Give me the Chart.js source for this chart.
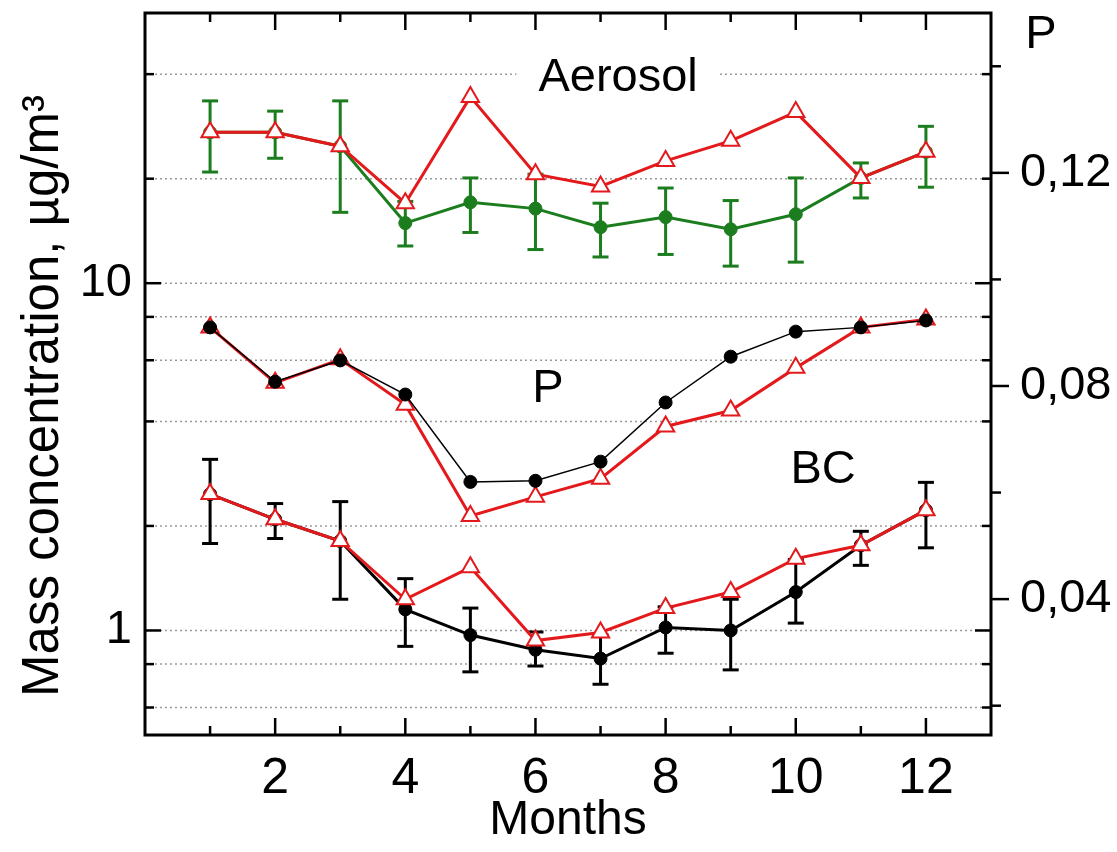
<!DOCTYPE html>
<html>
<head>
<meta charset="utf-8">
<script src="https://cdn.jsdelivr.net/npm/chart.js@4.4.0/dist/chart.umd.min.js"></script>
<style>
  html, body { margin: 0; padding: 0; background: #fff; }
  #wrap { width: 1117px; height: 852px; }
</style>
</head>
<body>
<div id="wrap"><canvas id="grafico"></canvas></div>
<script>
// dados
const months = [1, 2, 3, 4, 5, 6, 7, 8, 9, 10, 11, 12];

const aerosolMeasured = [27.2, 27.2, 24.8, 14.9, 17.1, 16.4, 14.5, 15.5, 14.3, 15.8, 20.1, 23.9];
const aerosolHigh     = [33.5, 31.3, 33.5, 17.2, 20.1, 20.6, 17.0, 18.8, 17.3, 20.1, 22.2, 28.3];
const aerosolLow      = [20.9, 22.9, 16.0, 12.8, 14.0, 12.5, 11.9, 12.1, 11.2, 11.5, 17.6, 18.9];
const aerosolModel    = [27.2, 27.2, 24.8, 17.0, 34.4, 20.6, 19.0, 22.5, 25.7, 31.1, 20.1, 23.9];

const bcMeasured = [2.47, 2.09, 1.81, 1.15, 0.97, 0.88, 0.83, 1.02, 1.00, 1.29, 1.76, 2.22];
const bcHigh     = [3.11, 2.32, 2.35, 1.41, 1.16, 0.99, 0.97, 1.17, 1.23, 1.60, 1.93, 2.67];
const bcLow      = [1.78, 1.84, 1.23, 0.90, 0.76, 0.79, 0.70, 0.86, 0.77, 1.05, 1.54, 1.73];
const bcModel    = [2.47, 2.09, 1.81, 1.23, 1.52, 0.935, 0.987, 1.16, 1.29, 1.61, 1.76, 2.22];

const pMeasured = [0.0910, 0.0808, 0.0848, 0.0784, 0.0620, 0.0622, 0.0658, 0.0769, 0.0855, 0.0902, 0.0910, 0.0923];
const pModel    = [0.0910, 0.0806, 0.0850, 0.0765, 0.0556, 0.0592, 0.0626, 0.0724, 0.0754, 0.0834, 0.0910, 0.0925];

const monthTicks = [2, 4, 6, 8, 10, 12];
const massTicks = [0.6, 0.8, 1, 2, 4, 6, 8, 10, 20, 40];
const massLabels = [1, 10];
const pTicks = [0.02, 0.04, 0.06, 0.08, 0.10, 0.12, 0.14];
const pLabels = [0.04, 0.08, 0.12];

const RED = '#e3191c';
const GREEN = '#1b7d1e';
const FONT = '"Liberation Sans", Arial, sans-serif';

const pts = arr => arr.map((v, i) => ({ x: months[i], y: v }));

function seg(ctx, x1, y1, x2, y2) {
    ctx.beginPath(); ctx.moveTo(x1, y1); ctx.lineTo(x2, y2); ctx.stroke();
}

function errorBars(ctx, chart, hi, lo, color) {
    const sx = chart.scales.x, sy = chart.scales.y;
    ctx.strokeStyle = color; ctx.lineWidth = 3;
    months.forEach((m, i) => {
        const x = sx.getPixelForValue(m);
        const y1 = sy.getPixelForValue(hi[i]), y2 = sy.getPixelForValue(lo[i]);
        seg(ctx, x, y1, x, y2);
        seg(ctx, x - 8, y1, x + 8, y1);
        seg(ctx, x - 8, y2, x + 8, y2);
    });
}

function label(ctx, text, x, y, pad) {
    ctx.font = '47px ' + FONT;
    const w = ctx.measureText(text).width;
    ctx.fillStyle = '#fff';
    ctx.fillRect(x - w / 2 - pad, y - 22, w + 2 * pad, 44);
    ctx.fillStyle = '#000';
    ctx.textAlign = 'center'; ctx.textBaseline = 'middle';
    ctx.fillText(text, x, y);
}

const moldura = {
    id: 'moldura',
    beforeDatasetsDraw(chart) {
        const { ctx, chartArea: a, scales } = chart;
        ctx.save();
        // linhas de grade pontilhadas
        ctx.strokeStyle = '#9a9a9a'; ctx.lineWidth = 1.5; ctx.setLineDash([2, 3]);
        massTicks.forEach(v => {
            const y = scales.y.getPixelForValue(v);
            seg(ctx, a.left, y, a.right, y);
        });
        ctx.setLineDash([]);
        // textos dentro do gráfico
        label(ctx, 'Aerosol', scales.x.getPixelForValue(7.27), scales.y.getPixelForValue(38.9), 22);
        label(ctx, 'P', scales.x.getPixelForValue(6.19), scales.y.getPixelForValue(4.95), 8);
        label(ctx, 'BC', scales.x.getPixelForValue(10.42), scales.y.getPixelForValue(2.89), 8);
        // barras de erro
        errorBars(ctx, chart, aerosolHigh, aerosolLow, GREEN);
        errorBars(ctx, chart, bcHigh, bcLow, '#000');
        ctx.restore();
    },
    afterDraw(chart) {
        const { ctx, chartArea: a, scales } = chart;
        ctx.save();
        ctx.strokeStyle = '#000'; ctx.lineWidth = 3;
        ctx.strokeRect(a.left, a.top, a.right - a.left, a.bottom - a.top);
        ctx.lineWidth = 2.5;
        // marcas do eixo x (para dentro, em cima e embaixo)
        months.forEach(m => {
            const x = scales.x.getPixelForValue(m);
            const len = m % 2 === 0 ? 17 : 9;
            seg(ctx, x, a.bottom, x, a.bottom - len);
            seg(ctx, x, a.top, x, a.top + len);
        });
        // marcas do eixo log (esquerda e espelhadas na direita)
        massTicks.forEach(v => {
            const y = scales.y.getPixelForValue(v);
            const len = massLabels.includes(v) ? 16 : 9;
            seg(ctx, a.left, y, a.left + len, y);
            seg(ctx, a.right, y, a.right - len, y);
        });
        // marcas do eixo P (para fora)
        pTicks.forEach(v => {
            const y = scales.y2.getPixelForValue(v);
            const len = pLabels.some(p => Math.abs(p - v) < 1e-6) ? 18 : 10;
            seg(ctx, a.right, y, a.right + len, y);
        });
        ctx.font = '47px ' + FONT;
        ctx.fillStyle = '#000'; ctx.textAlign = 'center'; ctx.textBaseline = 'middle';
        ctx.fillText('P', a.right + 50, a.top + 22);
        // título do eixo esquerdo
        ctx.translate(44, (a.top + a.bottom) / 2 + 22);
        ctx.rotate(-Math.PI / 2);
        ctx.font = '51px ' + FONT;
        ctx.fillText('Mass concentration, µg/m³', 0, 0);
        ctx.restore();
    }
};

function noPad(s) { s.paddingTop = 0; s.paddingBottom = 0; s.paddingLeft = 0; s.paddingRight = 0; }

const ctx = document.getElementById('grafico').getContext('2d');
new Chart(ctx, {
    type: 'line',
    data: {
        datasets: [
            {
                label: 'P measured', data: pts(pMeasured), yAxisID: 'y2', order: 1,
                borderColor: '#000', borderWidth: 1.5,
                pointRadius: 6.5, pointBackgroundColor: '#000', pointBorderColor: '#000', pointBorderWidth: 1
            },
            {
                label: 'P model', data: pts(pModel), yAxisID: 'y2', order: 2,
                borderColor: RED, borderWidth: 3,
                pointStyle: 'triangle', pointRadius: 10, pointBackgroundColor: '#fff', pointBorderColor: RED, pointBorderWidth: 2
            },
            {
                label: 'BC model', data: pts(bcModel), yAxisID: 'y', order: 1,
                borderColor: RED, borderWidth: 3,
                pointStyle: 'triangle', pointRadius: 10, pointBackgroundColor: '#fff', pointBorderColor: RED, pointBorderWidth: 2
            },
            {
                label: 'BC measured', data: pts(bcMeasured), yAxisID: 'y', order: 3,
                borderColor: '#000', borderWidth: 3,
                pointRadius: 6.5, pointBackgroundColor: '#000', pointBorderColor: '#000', pointBorderWidth: 1
            },
            {
                label: 'Aerosol model', data: pts(aerosolModel), yAxisID: 'y', order: 1,
                borderColor: RED, borderWidth: 3,
                pointStyle: 'triangle', pointRadius: 10, pointBackgroundColor: '#fff', pointBorderColor: RED, pointBorderWidth: 2
            },
            {
                label: 'Aerosol measured', data: pts(aerosolMeasured), yAxisID: 'y', order: 3,
                borderColor: GREEN, borderWidth: 3,
                pointRadius: 6.5, pointBackgroundColor: GREEN, pointBorderColor: GREEN, pointBorderWidth: 1
            }
        ]
    },
    options: {
        responsive: true,
        maintainAspectRatio: false,
        animation: false,
        layout: { padding: { top: 13, left: 0, right: 0, bottom: 0 } },
        plugins: { legend: { display: false }, tooltip: { enabled: false } },
        elements: { line: { tension: 0 } },
        scales: {
            x: {
                type: 'linear', position: 'bottom', min: 0, max: 13,
                afterBuildTicks: s => { s.ticks = monthTicks.map(v => ({ value: v })); },
                afterFit: s => { s.height = 117; noPad(s); },
                grid: { display: false, drawTicks: false },
                border: { display: false },
                ticks: { color: '#000', font: { size: 50, family: FONT }, padding: 14, autoSkip: false, maxRotation: 0, callback: v => String(v) },
                title: { display: true, text: 'Months', color: '#000', font: { size: 48, family: FONT }, padding: { top: 0, bottom: 2 } }
            },
            y: {
                type: 'logarithmic', position: 'left', min: 0.5, max: 60,
                afterBuildTicks: s => { s.ticks = massTicks.map(v => ({ value: v })); },
                afterFit: s => { s.width = 145; noPad(s); },
                grid: { display: false, drawTicks: false },
                border: { display: false },
                ticks: { color: '#000', font: { size: 47, family: FONT }, padding: 13, autoSkip: false,
                    callback: v => massLabels.includes(v) ? String(v) : '' }
            },
            y2: {
                type: 'linear', position: 'right', min: 0.0145, max: 0.150,
                afterBuildTicks: s => { s.ticks = pTicks.map(v => ({ value: v })); },
                afterFit: s => { s.width = 126; noPad(s); },
                grid: { display: false, drawTicks: false },
                border: { display: false },
                ticks: { color: '#000', font: { size: 47, family: FONT }, padding: 29, autoSkip: false,
                    callback: v => pLabels.some(p => Math.abs(p - v) < 1e-6) ? '0,' + String(Math.round(v * 100)).padStart(2, '0') : '' }
            }
        }
    },
    plugins: [moldura]
});
</script>
</body>
</html>
